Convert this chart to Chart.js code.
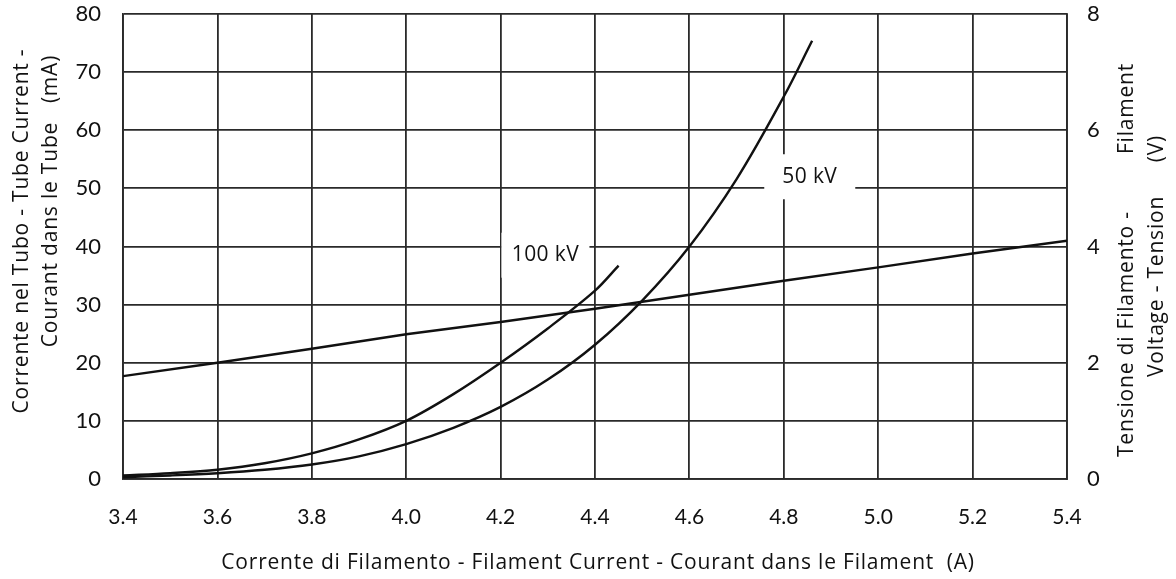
<!DOCTYPE html>
<html>
<head>
<meta charset="utf-8">
<script src="https://cdn.jsdelivr.net/npm/chart.js@4"></script>
<style>
  html, body { margin: 0; padding: 0; background: #fff; }
  canvas { display: block; }
</style>
</head>
<body>
<canvas id="chart" width="1176" height="579"></canvas>
<script>
// tick labels
const xTicks = [3.4, 3.6, 3.8, 4.0, 4.2, 4.4, 4.6, 4.8, 5.0, 5.2, 5.4];
const yTicks = [0, 10, 20, 30, 40, 50, 60, 70, 80];
const y2Ticks = [0, 2, 4, 6, 8];

// tube current, 100 kV (A -> mA)
const current100 = [3.4, 3.5, 3.6, 3.7, 3.8, 3.9, 4.0, 4.1, 4.2, 4.3, 4.4, 4.45];
const tube100 = [0.6, 1.0, 1.6, 2.7, 4.4, 6.8, 10.0, 14.6, 20.0, 25.9, 32.4, 36.7];

// tube current, 50 kV
const current50 = [3.4, 3.5, 3.6, 3.7, 3.8, 3.9, 4.0, 4.1, 4.2, 4.3, 4.4, 4.5, 4.6, 4.7, 4.8, 4.86];
const tube50 = [0.3, 0.6, 1.0, 1.6, 2.5, 3.9, 6.0, 8.8, 12.4, 17.1, 23.1, 30.7, 40.0, 51.6, 65.8, 75.4];

// filament voltage (right axis, V)
const currentFil = [3.4, 3.6, 3.8, 4.0, 4.2, 4.4, 4.6, 4.8, 5.0, 5.2, 5.4];
const voltFil = [1.77, 2.00, 2.24, 2.49, 2.70, 2.93, 3.17, 3.41, 3.64, 3.88, 4.10];

const curveLabels = [
  { text: '100 kV', x: 4.295, y: 38.5, w: 88, h: 45 },
  { text: '50 kV', x: 4.855, y: 52, w: 91, h: 45 }
];

const FONT = 'Lato, "Open Sans", sans-serif';
const TFONT = '"Open Sans", Lato, sans-serif';
const INK = '#111';
const GRID = '#2a2a2a';

const toXY = (xs, ys) => xs.map((x, i) => ({ x: x, y: ys[i] }));

const textPlugin = {
  id: 'texts',
  beforeDatasetsDraw(chart) {
    const ctx = chart.ctx;
    const xs = chart.scales.x, ys = chart.scales.y;
    ctx.save();
    ctx.font = '21px ' + TFONT;
    ctx.letterSpacing = '0.4px';
    ctx.textAlign = 'center';
    ctx.textBaseline = 'middle';
    curveLabels.forEach(l => {
      const px = xs.getPixelForValue(l.x), py = ys.getPixelForValue(l.y);
      ctx.fillStyle = '#fff';
      ctx.fillRect(px - l.w / 2, py - l.h / 2, l.w, l.h);
      ctx.fillStyle = INK;
      ctx.fillText(l.text, px, py);
    });
    ctx.restore();
  },
  afterDraw(chart) {
    const ctx = chart.ctx;
    ctx.save();
    ctx.fillStyle = INK;
    ctx.font = '21px ' + TFONT;
    ctx.letterSpacing = '0.8px';
    ctx.textBaseline = 'middle';
    // bottom title
    ctx.textAlign = 'center';
    ctx.fillText('Corrente di Filamento - Filament Current - Courant dans le Filament  (A)', 598, 563);

    const vtext = (s, x, y, align) => {
      ctx.save();
      ctx.translate(x, y);
      ctx.rotate(-Math.PI / 2);
      ctx.textAlign = align;
      ctx.fillText(s, 0, 0);
      ctx.restore();
    };
    // left title
    vtext('Corrente nel Tubo - Tube Current -', 22, 231, 'center');
    vtext('Courant dans le Tube   (mA)', 51, 201, 'center');
    // right title
    vtext('Tensione di Filamento -', 1127, 457, 'left');
    vtext('Filament', 1127, 63, 'right');
    vtext('Voltage - Tension', 1157, 377, 'left');
    vtext('(V)', 1157, 135, 'right');
    ctx.restore();
  }
};

const noPadV = s => { s.paddingTop = 0; s.paddingBottom = 0; };

new Chart(document.getElementById('chart'), {
  type: 'line',
  data: {
    datasets: [
      { label: '100 kV', data: toXY(current100, tube100), yAxisID: 'y', tension: 0.35 },
      { label: '50 kV', data: toXY(current50, tube50), yAxisID: 'y', tension: 0.35 },
      { label: 'Filament voltage', data: toXY(currentFil, voltFil), yAxisID: 'y2', tension: 0 }
    ]
  },
  options: {
    responsive: false,
    animation: false,
    devicePixelRatio: 1,
    layout: { padding: { top: 14, left: 0, right: 0, bottom: 0 } },
    elements: {
      point: { radius: 0 },
      line: { borderColor: INK, borderWidth: 2.4, fill: false }
    },
    plugins: { legend: { display: false }, tooltip: { enabled: false } },
    scales: {
      x: {
        type: 'linear', min: 3.4, max: 5.4,
        afterBuildTicks: s => { s.ticks = xTicks.map(v => ({ value: v })); },
        afterFit: s => { s.height = 100; s.paddingLeft = 0; s.paddingRight = 0; },
        ticks: { color: INK, font: { family: FONT, size: 21 }, padding: 26, maxRotation: 0,
                 callback: v => v.toFixed(1) },
        grid: { color: GRID, lineWidth: 1.8, drawTicks: false },
        border: { color: GRID, width: 1.8 }
      },
      y: {
        type: 'linear', position: 'left', min: 0, max: 80,
        afterBuildTicks: s => { s.ticks = yTicks.map(v => ({ value: v })); },
        afterFit: s => { s.width = 123; noPadV(s); },
        ticks: { color: INK, font: { family: FONT, size: 22 }, padding: 22 },
        grid: { color: GRID, lineWidth: 1.8, drawTicks: false },
        border: { color: GRID, width: 1.8 }
      },
      y2: {
        type: 'linear', position: 'right', min: 0, max: 8,
        afterBuildTicks: s => { s.ticks = y2Ticks.map(v => ({ value: v })); },
        afterFit: s => { s.width = 109; noPadV(s); },
        ticks: { color: INK, font: { family: FONT, size: 22 }, padding: 20 },
        grid: { display: false, drawTicks: false },
        border: { color: GRID, width: 1.8 }
      }
    }
  },
  plugins: [textPlugin]
});
</script>
</body>
</html>
